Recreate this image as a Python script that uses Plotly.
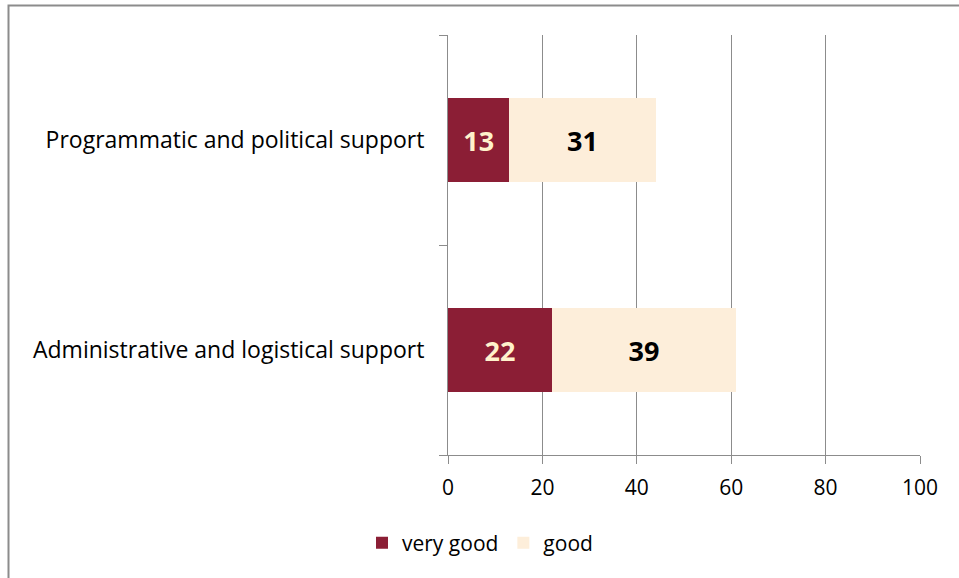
import plotly.graph_objects as go

categories = ["Administrative and logistical support", "Programmatic and political support"]
very_good = [22, 13]
good = [39, 31]
x_ticks = [0, 20, 40, 60, 80, 100]

W, H = 959, 578
L, T = 448, 35
pw, ph = 472, 420
R, B = W - L - pw, H - T - ph

def px_x(p):
    return (p - L) / pw

def px_y(p):
    return (T + ph - p) / ph

font = "Open Sans"
fig = go.Figure()
fig.add_trace(go.Bar(
    y=categories, x=very_good, orientation="h", name="very good",
    marker=dict(color="#8B1E35", line=dict(width=0)),
    text=very_good, textposition="inside", insidetextanchor="middle",
    textfont=dict(family=font, size=27, color="#FFF2CC", weight="bold"),
    width=0.4,
))
fig.add_trace(go.Bar(
    y=categories, x=good, orientation="h", name="good",
    marker=dict(color="#FDEEDA", line=dict(width=0)),
    text=good, textposition="inside", insidetextanchor="middle",
    textfont=dict(family=font, size=27, color="#000000", weight="bold"),
    width=0.4,
))

fig.update_layout(
    barmode="stack",
    width=W, height=H,
    margin=dict(l=L, r=R, t=T, b=B),
    paper_bgcolor="white", plot_bgcolor="white",
    font=dict(family=font, size=21, color="#000000"),
    showlegend=True,
    legend=dict(orientation="h", x=px_x(362), y=px_y(543), xanchor="left", yanchor="middle",
                font=dict(size=21), traceorder="normal", itemwidth=30),
    uniformtext=dict(mode="show", minsize=10),
    shapes=[dict(type="rect", xref="paper", yref="paper",
                 x0=px_x(8.5), x1=px_x(990), y0=px_y(610), y1=px_y(5.5),
                 line=dict(color="#8C8C8C", width=2), layer="below")],
)
fig.update_xaxes(
    range=[0, 100], tickvals=x_ticks, showgrid=True, gridcolor="#8C8C8C", gridwidth=1,
    showline=True, linecolor="#8C8C8C", linewidth=1,
    ticks="outside", ticklen=8, tickcolor="#8C8C8C",
    tickfont=dict(size=21), zeroline=False, ticklabelstandoff=6,
)
fig.update_yaxes(
    range=[-0.5, 1.5], showgrid=False, showline=True, linecolor="#8C8C8C", linewidth=1,
    ticks="outside", ticklen=8, tickcolor="#8C8C8C", tickson="boundaries",
    tickfont=dict(size=23), ticklabelstandoff=18,
)

fig.write_html("out.html", config={"displayModeBar": False},
               post_script="document.body.style.margin='0px';")
